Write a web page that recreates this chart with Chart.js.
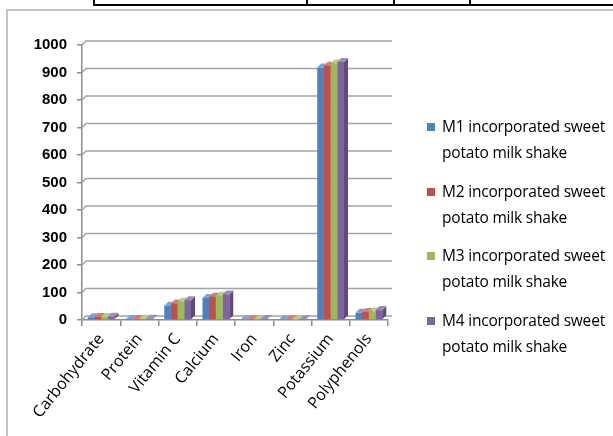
<!DOCTYPE html>
<html>
<head>
<meta charset="utf-8">
<script src="https://cdn.jsdelivr.net/npm/chart.js@4/dist/chart.umd.min.js"></script>
<style>
  html, body { margin: 0; padding: 0; background: #fff; }
  #wrap { position: relative; width: 613px; height: 436px; overflow: hidden; }
  #c { position: absolute; left: 0; top: 0; }
  .frame { position: absolute; left: 6px; top: 9px; width: 640px; height: 460px;
           border-left: 2px solid #c4c4c4; border-top: 2px solid #c4c4c4; }
  .tline { position: absolute; background: #000; }
  #legend { position: absolute; left: 427px; top: 113px; font-family: "Open Sans", sans-serif;
            font-size: 15.5px; color: #000; }
  .item { position: relative; height: 64.7px; }
  .sw { position: absolute; left: 0; top: 10px; width: 8px; height: 8px; }
  .txt { position: absolute; left: 15px; top: 0; line-height: 26px; white-space: nowrap; letter-spacing: -0.2px; }
</style>
</head>
<body>
<div id="wrap">
  <div class="tline" style="left:93px;top:4px;width:520px;height:2px"></div>
  <div class="tline" style="left:93px;top:0;width:2px;height:6px"></div>
  <div class="tline" style="left:306px;top:0;width:2px;height:6px"></div>
  <div class="tline" style="left:393px;top:0;width:2px;height:6px"></div>
  <div class="tline" style="left:469px;top:0;width:2px;height:6px"></div>
  <div class="frame"></div>
  <canvas id="c" width="613" height="436"></canvas>
  <div id="legend"></div>
</div>
<script>
// Nutrient categories
const categories = ["Carbohydrate", "Protein", "Vitamin C", "Calcium", "Iron", "Zinc", "Potassium", "Polyphenols"];

// Series names
const seriesNames = [
  "M1 incorporated sweet potato milk shake",
  "M2 incorporated sweet potato milk shake",
  "M3 incorporated sweet potato milk shake",
  "M4 incorporated sweet potato milk shake"
];

// Values per sample
const m1 = [10, 4, 52, 80, 3, 2, 918, 26];
const m2 = [11, 4, 60, 85, 3, 2, 925, 29];
const m3 = [11, 5, 66, 88, 3, 2, 933, 31];
const m4 = [12, 5, 72, 93, 4, 2, 938, 36];

// Y axis ticks
const yTicks = [0, 100, 200, 300, 400, 500, 600, 700, 800, 900, 1000];

const colors = ["#4F81BD", "#C0504D", "#9BBB59", "#8064A2"];
const sideColors = ["#3A6496", "#963C3A", "#779143", "#5F4A7C"];
const topColors = ["#7FA3D1", "#D47C7A", "#B6CE85", "#A08BBE"];

const DX = 4, DY = 4;

// Back wall gridlines and 3D bar faces
const depthPlugin = {
  id: "depth",
  beforeDatasetsDraw(chart) {
    const ctx = chart.ctx;
    const ys = chart.scales.y;
    const a = chart.chartArea;
    ctx.save();
    ctx.strokeStyle = "#a3a3a3";
    ctx.lineWidth = 1.5;
    yTicks.forEach(v => {
      const y = ys.getPixelForValue(v);
      ctx.beginPath();
      ctx.moveTo(a.left, y);
      ctx.lineTo(a.left + DX, y - DY);
      ctx.lineTo(a.right + DX, y - DY);
      ctx.stroke();
    });
    ctx.restore();

    ctx.save();
    chart.data.datasets.forEach((ds, di) => {
      const meta = chart.getDatasetMeta(di);
      meta.data.forEach(bar => {
        const { x, y, base, width } = bar.getProps(["x", "y", "base", "width"], true);
        const l = x - width / 2, r = x + width / 2;
        ctx.fillStyle = sideColors[di];
        ctx.beginPath();
        ctx.moveTo(r, y);
        ctx.lineTo(r + DX, y - DY);
        ctx.lineTo(r + DX, base - DY);
        ctx.lineTo(r, base);
        ctx.closePath();
        ctx.fill();
        ctx.fillStyle = topColors[di];
        ctx.beginPath();
        ctx.moveTo(l, y);
        ctx.lineTo(l + DX, y - DY);
        ctx.lineTo(r + DX, y - DY);
        ctx.lineTo(r, y);
        ctx.closePath();
        ctx.fill();
      });
    });
    ctx.restore();
  }
};

const seriesValues = [m1, m2, m3, m4];

new Chart(document.getElementById("c"), {
  type: "bar",
  data: {
    labels: categories,
    datasets: seriesValues.map((vals, i) => ({
      label: seriesNames[i],
      data: vals,
      backgroundColor: colors[i],
      borderWidth: 0
    }))
  },
  options: {
    responsive: false,
    animation: false,
    devicePixelRatio: 1,
    layout: { padding: { left: 0, top: 45, right: 225, bottom: 0 } },
    plugins: { legend: { display: false }, tooltip: { enabled: false } },
    datasets: { bar: { categoryPercentage: 0.7, barPercentage: 1.0 } },
    scales: {
      x: {
        afterFit(s) { s.height = 116; },
        grid: { display: true, drawOnChartArea: false, offset: true, color: "#8c8c8c", tickLength: 6, lineWidth: 1.5 },
        border: { display: true, color: "#8c8c8c", width: 1.5 },
        ticks: { minRotation: 51, maxRotation: 51, autoSkip: false, color: "#000", padding: 4,
                 font: { family: "Open Sans", size: 16 } }
      },
      y: {
        min: 0, max: 1000,
        afterFit(s) { s.width = 82; },
        afterBuildTicks(s) { s.ticks = yTicks.map(v => ({ value: v })); },
        grid: { display: true, drawOnChartArea: false, color: "#8c8c8c", tickLength: 5, lineWidth: 1.5 },
        border: { display: true, color: "#8c8c8c", width: 1.5 },
        ticks: { color: "#000", padding: 10, callback: v => String(v),
                 font: { family: "Liberation Sans", size: 15, weight: "bold" } }
      }
    }
  },
  plugins: [depthPlugin]
});

// Legend with wrapped series names
const legend = document.getElementById("legend");
seriesNames.forEach((name, i) => {
  const words = name.split(" ");
  const item = document.createElement("div");
  item.className = "item";
  item.innerHTML = '<div class="sw" style="background:' + colors[i] + '"></div>' +
    '<div class="txt">' + words.slice(0, 3).join(" ") + "<br>" + words.slice(3).join(" ") + "</div>";
  legend.appendChild(item);
});
</script>
</body>
</html>
